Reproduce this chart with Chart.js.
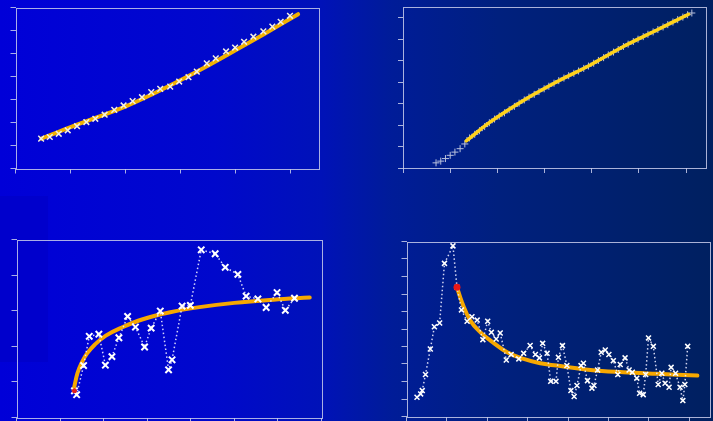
<!DOCTYPE html>
<html>
<head>
<meta charset="utf-8">
<script src="https://cdn.jsdelivr.net/npm/chart.js@4.4.1/dist/chart.umd.min.js"></script>
<style>
  html, body { margin: 0; padding: 0; width: 713px; height: 421px; overflow: hidden; }
  body {
    position: relative;
    background: linear-gradient(to right, #0000d8 0%, #0008cc 30%, #0012b8 45%, #001c98 55%, #00207e 70%, #002060 100%);
  }
  canvas { position: absolute; }
  #patch { position: absolute; left: 0; top: 196px; width: 48px; height: 166px; background: #0000cc; }
</style>
</head>
<body>
<div id="patch"></div>
<canvas id="topLeft"></canvas>
<canvas id="topRight"></canvas>
<canvas id="bottomLeft"></canvas>
<canvas id="bottomRight"></canvas>
<script>
// ---- dados ----

// painel superior esquerdo: pontos (x) e curva ajustada
const tlX = [0.465, 0.622, 0.785, 0.948, 1.117, 1.286, 1.449, 1.618, 1.793, 1.962, 2.126, 2.295, 2.464, 2.627,
             2.808, 2.971, 3.140, 3.291, 3.472, 3.635, 3.822, 3.986, 4.149, 4.318, 4.499, 4.662, 4.813, 4.982];
const tlY = [1.30, 1.37, 1.51, 1.66, 1.84, 2.02, 2.16, 2.34, 2.55, 2.74, 2.93, 3.10, 3.32, 3.46,
             3.56, 3.78, 3.97, 4.21, 4.57, 4.79, 5.09, 5.26, 5.51, 5.73, 5.96, 6.17, 6.38, 6.64];
const tlFitX = [0.47, 1.0, 1.5, 2.0, 2.5, 3.0, 3.5, 4.0, 4.5, 5.13];
const tlFitY = [1.30, 1.80, 2.24, 2.70, 3.25, 3.85, 4.48, 5.15, 5.83, 6.71];

// painel superior direito: pontos (+) e curva ajustada
const trX = [0.70, 0.80, 0.90, 1.00, 1.10, 1.21, 1.31, 1.41, 1.52, 1.62, 1.73, 1.83, 1.94, 2.04, 2.15, 2.25, 2.36, 2.46,
             2.57, 2.67, 2.78, 2.88, 2.99, 3.09, 3.20, 3.30, 3.41, 3.51, 3.62, 3.72, 3.83, 3.93, 4.04, 4.14, 4.25, 4.35,
             4.46, 4.56, 4.67, 4.77, 4.88, 4.98, 5.09, 5.19, 5.30, 5.40, 5.51, 5.61, 5.72, 5.82, 5.93, 6.03, 6.12];
const trY = [0.24, 0.32, 0.44, 0.59, 0.74, 0.90, 1.12, 1.40, 1.57, 1.74, 1.93, 2.11, 2.28, 2.42, 2.57, 2.72, 2.87, 3.02,
             3.17, 3.30, 3.43, 3.56, 3.69, 3.81, 3.95, 4.07, 4.19, 4.30, 4.41, 4.52, 4.64, 4.75, 4.88, 5.01, 5.14, 5.27,
             5.40, 5.52, 5.66, 5.77, 5.89, 6.00, 6.12, 6.23, 6.34, 6.45, 6.57, 6.68, 6.80, 6.91, 7.03, 7.14, 7.22];
const trFitX = [1.34, 1.85, 2.56, 3.26, 3.97, 4.67, 5.38, 6.05];
const trFitY = [1.26, 2.15, 3.16, 4.02, 4.80, 5.66, 6.43, 7.16];

// painel inferior esquerdo
const blX = [1.33, 1.38, 1.54, 1.67, 1.89, 2.04, 2.19, 2.35, 2.55, 2.73, 2.94, 3.09, 3.30, 3.49,
             3.57, 3.80, 3.99, 4.24, 4.56, 4.79, 5.08, 5.27, 5.54, 5.73, 5.98, 6.17, 6.38];
const blY = [0.75, 0.64, 1.46, 2.28, 2.34, 1.47, 1.71, 2.24, 2.84, 2.54, 1.98, 2.51, 2.99, 1.34,
             1.62, 3.13, 3.15, 4.71, 4.60, 4.22, 4.02, 3.41, 3.33, 3.09, 3.51, 3.01, 3.35];
const blFitX = [1.31, 1.40, 1.50, 1.62, 1.80, 2.05, 2.40, 2.90, 3.50, 4.20, 5.00, 5.90, 6.73];
const blFitY = [0.77, 1.25, 1.55, 1.80, 2.05, 2.30, 2.52, 2.76, 2.95, 3.10, 3.22, 3.31, 3.37];

// painel inferior direito
const brX = [0.26, 0.35, 0.39, 0.47, 0.59, 0.69, 0.82, 0.94, 1.15, 1.25, 1.36, 1.50, 1.62, 1.75, 1.89, 2.01, 2.10,
             2.22, 2.32, 2.47, 2.59, 2.78, 2.90, 3.06, 3.19, 3.29, 3.37, 3.48, 3.57, 3.70, 3.76, 3.86, 3.97, 4.07,
             4.15, 4.22, 4.32, 4.38, 4.48, 4.59, 4.64, 4.73, 4.82, 4.92, 5.01, 5.12, 5.23, 5.29, 5.41, 5.51, 5.59,
             5.70, 5.77, 5.86, 5.92, 5.99, 6.11, 6.23, 6.32, 6.40, 6.50, 6.55, 6.66, 6.77, 6.84, 6.89, 6.96];
const brY = [1.10, 1.29, 1.48, 2.40, 3.86, 5.13, 5.34, 8.75, 9.75, 7.38, 6.09, 5.44, 5.70, 5.51, 4.39, 5.44, 4.81,
             4.43, 4.77, 3.23, 3.54, 3.29, 3.61, 4.06, 3.54, 3.35, 4.18, 3.61, 2.01, 2.01, 3.38, 4.05, 2.91, 1.48,
             1.14, 1.77, 2.91, 3.04, 2.05, 1.62, 1.77, 2.66, 3.67, 3.80, 3.54, 3.19, 2.40, 2.97, 3.35, 2.66, 2.53,
             2.19, 1.33, 1.25, 2.40, 4.49, 4.01, 1.83, 2.47, 1.90, 1.67, 2.81, 2.47, 1.67, 0.91, 1.83, 4.01];
const brFitX = [1.25, 1.375, 1.58, 1.83, 2.08, 2.49, 2.90, 3.31, 3.72, 4.55, 5.37, 6.19, 7.20];
const brFitY = [7.38, 6.52, 5.48, 4.81, 4.34, 3.67, 3.29, 3.04, 2.91, 2.66, 2.53, 2.44, 2.34];

// pontos iniciais marcados em vermelho
const blStart = [{ x: 1.33, y: 0.75 }];
const brStart = [{ x: 1.25, y: 7.38 }];

// ---- estilo ----
const frameColor = 'rgba(200, 205, 235, 0.85)';
const TICK = 5;
const PAD = 3;

function pts(xs, ys) {
    return xs.map((x, i) => ({ x: x, y: ys[i] }));
}

// moldura completa em volta da área do gráfico
const framePlugin = {
    id: 'frame',
    beforeDatasetsDraw(chart) {
        const a = chart.chartArea;
        const ctx = chart.ctx;
        const l = Math.round(a.left) + 0.5, t = Math.round(a.top) + 0.5;
        const r = Math.round(a.right) + 0.5, b = Math.round(a.bottom) + 0.5;
        ctx.save();
        ctx.strokeStyle = frameColor;
        ctx.lineWidth = 1;
        ctx.strokeRect(l, t, r - l, b - t);
        ctx.restore();
    }
};

function axis(max) {
    return {
        type: 'linear',
        min: 0,
        max: max,
        ticks: { display: false, stepSize: 1, includeBounds: false },
        grid: { drawOnChartArea: false, color: frameColor, tickLength: TICK },
        border: { display: false }
    };
}

// box = área do gráfico na página (left, top, width, height)
function makePanel(id, box, xMax, yMax, datasets) {
    const canvas = document.getElementById(id);
    canvas.width = box.w + TICK + PAD;
    canvas.height = box.h + TICK + PAD;
    const chart = new Chart(canvas, {
        type: 'scatter',
        data: { datasets: datasets },
        options: {
            responsive: false,
            maintainAspectRatio: false,
            animation: false,
            layout: { padding: { top: PAD, right: PAD, left: 0, bottom: 0 } },
            plugins: { legend: { display: false }, tooltip: { enabled: false } },
            scales: { x: axis(xMax), y: axis(yMax) }
        },
        plugins: [framePlugin]
    });
    // acertar o tamanho para que a área do gráfico fique igual à caixa
    let a = chart.chartArea;
    const w = canvas.width + (box.w - (a.right - a.left));
    const h = canvas.height + (box.h - (a.bottom - a.top));
    chart.resize(w, h);
    a = chart.chartArea;
    canvas.style.left = (box.l - a.left) + 'px';
    canvas.style.top = (box.t - a.top) + 'px';
}

function fitLine(xs, ys, color, width) {
    return {
        data: pts(xs, ys),
        showLine: true,
        borderColor: color,
        borderWidth: width,
        pointRadius: 0,
        tension: 0.4,
        borderCapStyle: 'round',
        order: 2
    };
}

function dottedPoints(xs, ys, radius, width) {
    return {
        data: pts(xs, ys),
        showLine: true,
        borderColor: 'rgba(235, 235, 255, 0.9)',
        borderWidth: 1.5,
        borderDash: [1.5, 2.5],
        pointStyle: 'crossRot',
        pointRadius: radius,
        pointBorderColor: '#ffffff',
        pointBorderWidth: width,
        order: 1
    };
}

makePanel('topLeft', { l: 15, t: 7, w: 303, h: 161 }, 5.5, 7, [
    {
        data: pts(tlX, tlY),
        pointStyle: 'crossRot',
        pointRadius: 4,
        pointBorderColor: '#f4f0e0',
        pointBorderWidth: 1.5,
        order: 1
    },
    fitLine(tlFitX, tlFitY, '#f2b200', 4)
]);

makePanel('topRight', { l: 403, t: 7, w: 303, h: 161 }, 6.42, 7.5, [
    fitLine(trFitX, trFitY, '#ffd21a', 3.5),
    {
        data: pts(trX, trY),
        pointStyle: 'cross',
        pointRadius: 3.5,
        pointBorderColor: '#b8c0dc',
        pointBorderWidth: 1,
        order: 3
    }
]);

makePanel('bottomLeft', { l: 16, t: 239, w: 305, h: 178 }, 7, 5, [
    { data: blStart, pointRadius: 2.5, pointBackgroundColor: '#e02020', pointBorderWidth: 0, order: 0 },
    dottedPoints(blX, blY, 4.5, 2),
    fitLine(blFitX, blFitY, '#f7a800', 4)
]);

makePanel('bottomRight', { l: 406, t: 241, w: 303, h: 175 }, 7.5, 10, [
    { data: brStart, pointRadius: 3.5, pointBackgroundColor: '#e81818', pointBorderWidth: 0, order: 0 },
    dottedPoints(brX, brY, 3.5, 1.5),
    fitLine(brFitX, brFitY, '#f7a800', 4)
]);
</script>
</body>
</html>
